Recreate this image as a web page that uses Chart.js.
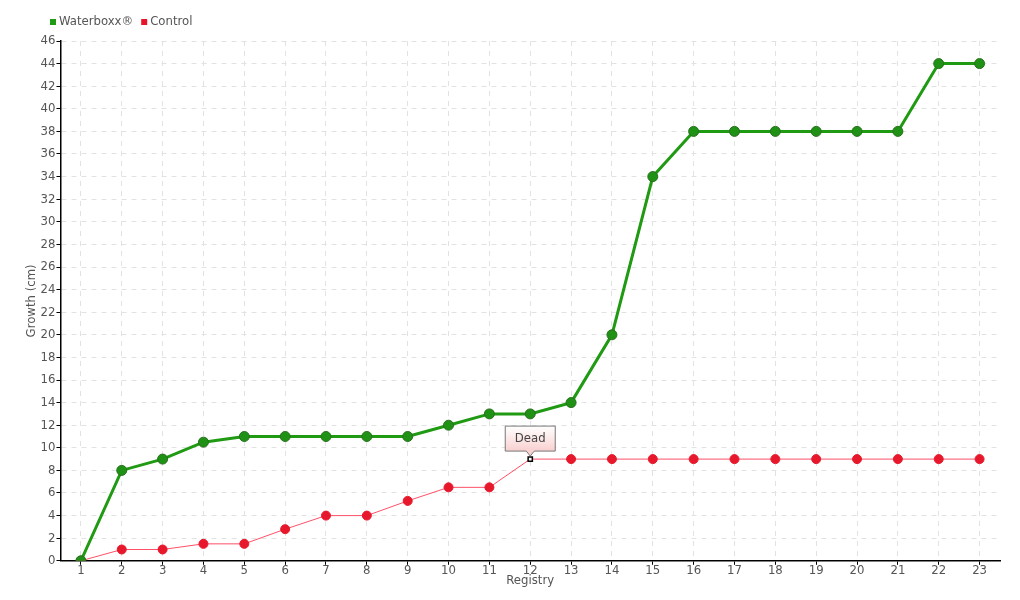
<!DOCTYPE html>
<html>
<head>
<meta charset="utf-8">
<script src="https://cdn.jsdelivr.net/npm/chart.js@4"></script>
<style>
  html, body { margin: 0; padding: 0; background: white; }
  #wrap { width: 1020px; height: 600px; }
</style>
</head>
<body>
<div id="wrap"><canvas id="growthChart"></canvas></div>
<script>
const registry = ['1','2','3','4','5','6','7','8','9','10','11','12','13','14','15','16','17','18','19','20','21','22','23'];
const waterboxx = [0, 8, 9, 10.5, 11, 11, 11, 11, 11, 12, 13, 13, 14, 20, 34, 38, 38, 38, 38, 38, 38, 44, 44];
const control = [0, 1, 1, 1.5, 1.5, 2.8, 4, 4, 5.3, 6.5, 6.5, 9, 9, 9, 9, 9, 9, 9, 9, 9, 9, 9, 9];
const deadIndex = 11;
const deadLabel = 'Dead';

const fontFam = '"DejaVu Sans Condensed", "Liberation Sans Narrow", sans-serif';
const textGrey = '#555';

// callout box over the "Dead" point
const deadCallout = {
    id: 'deadCallout',
    afterDatasetsDraw(chart) {
        const pt = chart.getDatasetMeta(1).data[deadIndex];
        if (!pt) return;
        const c = chart.ctx;
        const w = 50, h = 25;
        const x0 = pt.x - 25, y1 = pt.y - 8, y0 = y1 - h;
        c.save();
        const g = c.createLinearGradient(0, y0, 0, y1);
        g.addColorStop(0, '#ffffff');
        g.addColorStop(1, '#f9d0d0');
        c.beginPath();
        c.moveTo(x0, y0);
        c.lineTo(x0 + w, y0);
        c.lineTo(x0 + w, y1);
        c.lineTo(pt.x + 4, y1);
        c.lineTo(pt.x, y1 + 5);
        c.lineTo(pt.x - 4, y1);
        c.lineTo(x0, y1);
        c.closePath();
        c.fillStyle = g;
        c.fill();
        c.strokeStyle = '#777';
        c.lineWidth = 1;
        c.stroke();
        c.fillStyle = '#444';
        c.font = '13px ' + fontFam;
        c.textAlign = 'center';
        c.textBaseline = 'middle';
        c.fillText(deadLabel, pt.x, (y0 + y1) / 2);
        c.restore();
    }
};

// small legend in the top left corner
const topLegend = {
    id: 'topLegend',
    afterDraw(chart) {
        const c = chart.ctx;
        let x = 50;
        const y = 22;
        c.save();
        c.font = '13px ' + fontFam;
        c.textBaseline = 'middle';
        chart.data.datasets.forEach(ds => {
            c.fillStyle = ds.backgroundColor;
            c.fillRect(x, y - 3, 6, 6);
            x += 9;
            c.fillStyle = textGrey;
            c.fillText(ds.label, x, y);
            x += c.measureText(ds.label).width + 8;
        });
        c.restore();
    }
};

const ctx = document.getElementById('growthChart').getContext('2d');
new Chart(ctx, {
    type: 'line',
    data: {
        labels: registry,
        datasets: [{
            label: 'Waterboxx®',
            data: waterboxx,
            borderColor: '#1f9a12',
            backgroundColor: '#1f9a12',
            borderWidth: 3,
            pointRadius: 5,
            pointBackgroundColor: '#1f9216',
            pointBorderColor: '#2a6f1e',
            pointBorderWidth: 1,
            tension: 0
        }, {
            label: 'Control',
            data: control,
            borderColor: '#ff5068',
            backgroundColor: '#e8142c',
            borderWidth: 1,
            pointRadius: (c) => c.dataIndex === deadIndex ? 3 : 4.5,
            pointStyle: (c) => c.dataIndex === deadIndex ? 'rect' : 'circle',
            pointBackgroundColor: (c) => c.dataIndex === deadIndex ? '#ffffff' : '#e8182c',
            pointBorderColor: (c) => c.dataIndex === deadIndex ? '#000000' : '#e8182c',
            pointBorderWidth: (c) => c.dataIndex === deadIndex ? 1.5 : 1,
            tension: 0
        }]
    },
    options: {
        responsive: true,
        maintainAspectRatio: false,
        animation: false,
        layout: { padding: { left: 24, right: 20, top: 41, bottom: 12 } },
        scales: {
            x: {
                offset: true,
                title: { display: true, text: 'Registry', color: textGrey, font: { family: fontFam, size: 13 }, padding: { top: -4, bottom: 0 } },
                ticks: { color: textGrey, font: { family: fontFam, size: 13 }, maxRotation: 0, padding: -2 },
                grid: { color: '#e2e2e2', tickColor: '#000', tickLength: 4, offset: false },
                border: { color: '#000', width: 1.5, dash: [5, 5] }
            },
            y: {
                min: 0,
                max: 46,
                title: { display: true, text: 'Growth (cm)', color: textGrey, font: { family: fontFam, size: 13 }, padding: 0 },
                ticks: { stepSize: 2, color: textGrey, font: { family: fontFam, size: 13 }, padding: 1 },
                grid: { color: '#e2e2e2', tickColor: '#000', tickLength: 4 },
                border: { color: '#000', width: 1.5, dash: [5, 5] }
            }
        },
        plugins: {
            legend: { display: false },
            tooltip: { enabled: false }
        }
    },
    plugins: [deadCallout, topLegend]
});
</script>
</body>
</html>
